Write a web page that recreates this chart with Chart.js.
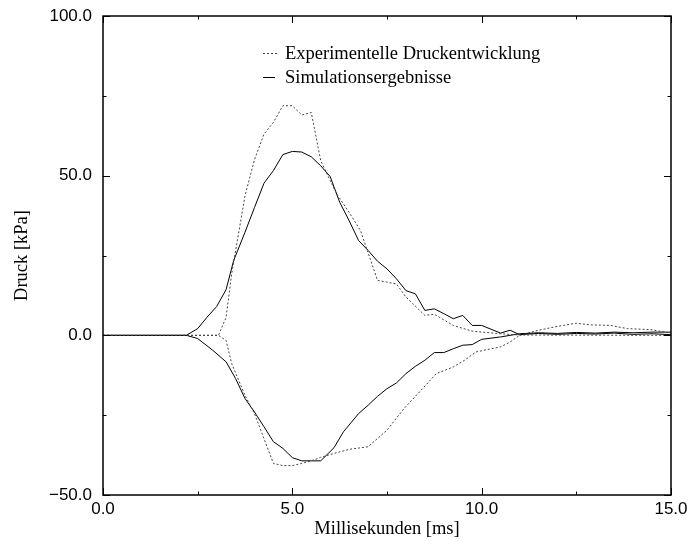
<!DOCTYPE html>
<html>
<head>
<meta charset="utf-8">
<script src="https://cdn.jsdelivr.net/npm/chart.js@4.4.1/dist/chart.umd.min.js"></script>
<style>
html,body{margin:0;padding:0;background:#fff;}
canvas{display:block;}
</style>
</head>
<body>
<canvas id="c" width="688" height="541"></canvas>
<script>
// ---- data ----
const legendLabels = ["Experimentelle Druckentwicklung", "Simulationsergebnisse"];
const xTitle = "Millisekunden [ms]";
const yTitle = "Druck [kPa]";

const expPosX = [0, 3.05, 3.25, 3.4, 3.75, 4.0, 4.25, 4.5, 4.75, 5.0, 5.25, 5.5, 5.75, 6.0, 6.17, 6.5, 6.8, 7.25, 7.75, 8.0, 8.5, 8.75, 9.25, 9.75, 10.5, 11.0, 15];
const expPosY = [0, 0, 5.6, 19.4, 43.7, 55, 63, 66.7, 71.9, 71.9, 69, 69.8, 54.7, 48.5, 44.3, 38.5, 32.8, 17.2, 16.1, 12, 6.25, 6.6, 3.1, 1.3, 0.5, 0.1, 0];

const simPosX = [0, 2.2, 2.5, 2.75, 3.0, 3.25, 3.45, 3.75, 4.0, 4.25, 4.5, 4.75, 5.0, 5.25, 5.5, 5.75, 6.0, 6.25, 6.5, 6.75, 7.0, 7.25, 7.5, 7.75, 8.0, 8.25, 8.5, 8.75, 9.0, 9.25, 9.5, 9.75, 10.0, 10.5, 10.75, 11.0, 11.5, 12.0, 12.5, 13.0, 13.5, 14.0, 14.5, 15.0];
const simPosY = [0, 0, 2.1, 5.7, 9, 14.3, 23.4, 32.3, 40, 47.6, 51.6, 56.6, 57.6, 57.4, 55.9, 53.1, 49.7, 41.7, 35.9, 29.7, 26.6, 23.2, 20.8, 17.7, 14, 13, 7.8, 8.3, 6.8, 5.2, 6.25, 3.1, 3.1, 0.7, 1.6, 0.2, 0.6, 0.3, 0.6, 0.4, 0.7, 0.3, 0.5, 0.2];

const expNegX = [0, 3.05, 3.25, 3.4, 3.75, 4.0, 4.5, 4.75, 5.0, 5.25, 5.5, 5.75, 6.1, 6.5, 7.0, 7.5, 7.95, 8.4, 8.8, 9.25, 9.55, 9.85, 10.5, 10.75, 11.0, 11.5, 12.0, 12.5, 12.85, 13.4, 13.85, 14.45, 15.0];
const expNegY = [0, 0, -1.6, -8.9, -18.8, -24.5, -40.1, -40.8, -40.8, -40.1, -39.3, -38.2, -37, -35.7, -34.9, -29.7, -22.9, -17.2, -12, -9.9, -7.8, -5.2, -3.6, -2.1, 0, 1.6, 2.8, 3.8, 3.3, 3.1, 2.1, 1.8, 0.7];

const simNegX = [0, 2.2, 2.5, 2.9, 3.25, 3.5, 3.75, 4.0, 4.25, 4.5, 4.75, 5.0, 5.25, 5.5, 5.75, 6.1, 6.35, 6.75, 7.0, 7.25, 7.5, 7.75, 8.0, 8.25, 8.5, 8.75, 9.0, 9.25, 9.5, 9.75, 10.0, 10.5, 11.0, 11.5, 12.0, 12.5, 13.0, 13.5, 14.0, 14.5, 15.0];
const simNegY = [0, 0, -1, -4.7, -8.3, -13.5, -19.8, -24, -28.6, -33.3, -35.4, -38.3, -39.3, -39.3, -39.3, -35.2, -30.2, -24.5, -21.9, -19.1, -16.7, -14.9, -12, -9.7, -7.8, -5.4, -5.4, -4.2, -3.1, -2.9, -1.25, -0.5, 0.5, 0.8, 0.6, 0.9, 0.7, 1.0, 0.8, 1.0, 1.0];

const xMajorTicks = [0, 5, 10, 15];
const xMinorTicks = [2.5, 7.5, 12.5];
const yMajorTicks = [-50, 0, 50, 100];
const yMinorTicks = [-25, 25, 75];

// ---- helpers ----
const pts = (xs, ys) => xs.map((x, i) => ({x: x, y: ys[i]}));
const fmt = v => v.toFixed(1).replace('-', '\u2212');

const DOT = '#444';
const SOLID = '#000';
const dotted = {borderColor: DOT, borderWidth: 1, borderDash: [2, 2], pointRadius: 0, tension: 0, fill: false};
const solid = {borderColor: SOLID, borderWidth: 1, pointRadius: 0, tension: 0, fill: false};

const frame = {
  id: 'frame',
  afterDatasetsDraw(chart) {
    const {ctx, chartArea: a, scales: {x, y}} = chart;
    ctx.save();
    ctx.strokeStyle = '#000';
    ctx.lineWidth = 1.5;
    ctx.strokeRect(a.left, a.top, a.right - a.left, a.bottom - a.top);
    ctx.lineWidth = 1;
    const tick = (vals, len) => {
      vals.forEach(v => {
        const px = Math.round(x.getPixelForValue(v)) + 0.5;
        ctx.beginPath();
        ctx.moveTo(px, a.bottom); ctx.lineTo(px, a.bottom - len);
        ctx.moveTo(px, a.top); ctx.lineTo(px, a.top + len);
        ctx.stroke();
      });
    };
    const ytick = (vals, len) => {
      vals.forEach(v => {
        const py = Math.round(y.getPixelForValue(v)) + 0.5;
        ctx.beginPath();
        ctx.moveTo(a.left, py); ctx.lineTo(a.left + len, py);
        ctx.moveTo(a.right, py); ctx.lineTo(a.right - len, py);
        ctx.stroke();
      });
    };
    tick(xMajorTicks, 7); tick(xMinorTicks, 3.5);
    ytick(yMajorTicks, 7); ytick(yMinorTicks, 3.5);

    // legend inside plot
    const lx = a.left + 160, ly1 = a.top + 37, ly2 = a.top + 61;
    ctx.font = '18.5px "Liberation Serif", "Times New Roman", serif';
    ctx.fillStyle = '#000';
    ctx.textBaseline = 'middle';
    ctx.textAlign = 'left';
    ctx.strokeStyle = DOT;
    ctx.setLineDash([2, 2]);
    ctx.beginPath(); ctx.moveTo(lx, ly1 + 0.5); ctx.lineTo(lx + 15, ly1 + 0.5); ctx.stroke();
    ctx.setLineDash([]);
    ctx.strokeStyle = SOLID;
    ctx.beginPath(); ctx.moveTo(lx, ly2 + 0.5); ctx.lineTo(lx + 12, ly2 + 0.5); ctx.stroke();
    ctx.fillText(legendLabels[0], lx + 22, ly1 + 1);
    ctx.fillText(legendLabels[1], lx + 22, ly2 + 1);
    ctx.restore();
  }
};

new Chart(document.getElementById('c'), {
  type: 'line',
  data: {
    datasets: [
      Object.assign({label: legendLabels[0], data: pts(expPosX, expPosY)}, dotted),
      Object.assign({label: legendLabels[1], data: pts(simPosX, simPosY)}, solid),
      Object.assign({label: legendLabels[0] + ' (neg)', data: pts(expNegX, expNegY)}, dotted),
      Object.assign({label: legendLabels[1] + ' (neg)', data: pts(simNegX, simNegY)}, solid)
    ]
  },
  options: {
    responsive: false,
    animation: false,
    events: [],
    layout: {padding: {top: 16, right: 17, left: 0, bottom: 0}},
    plugins: {legend: {display: false}, tooltip: {enabled: false}},
    scales: {
      x: {
        type: 'linear', min: 0, max: 15,
        afterFit: s => { s.height = 46; s.paddingLeft = 0; s.paddingRight = 0; },
        afterBuildTicks: s => { s.ticks = xMajorTicks.map(v => ({value: v})); },
        grid: {display: false, drawTicks: false},
        border: {display: false},
        ticks: {padding: 4, maxRotation: 0, autoSkip: false, color: '#000',
                font: {family: '"Liberation Sans", Arial, sans-serif', size: 17},
                callback: v => fmt(v)},
        title: {display: true, text: xTitle, color: '#000', padding: {top: 0, bottom: 1},
                font: {family: '"Liberation Serif", "Times New Roman", serif', size: 18.5}}
      },
      y: {
        type: 'linear', min: -50, max: 100,
        afterFit: s => { s.width = 103; s.paddingTop = 0; s.paddingBottom = 0; },
        afterBuildTicks: s => { s.ticks = yMajorTicks.map(v => ({value: v})); },
        grid: {display: false, drawTicks: false},
        border: {display: false},
        ticks: {padding: 11, autoSkip: false, color: '#000',
                font: {family: '"Liberation Sans", Arial, sans-serif', size: 17},
                callback: v => fmt(v)},
        title: {display: true, text: yTitle, color: '#000', padding: {top: 11.5, bottom: 0},
                font: {family: '"Liberation Serif", "Times New Roman", serif', size: 18.5}}
      }
    }
  },
  plugins: [frame]
});
</script>
</body>
</html>
